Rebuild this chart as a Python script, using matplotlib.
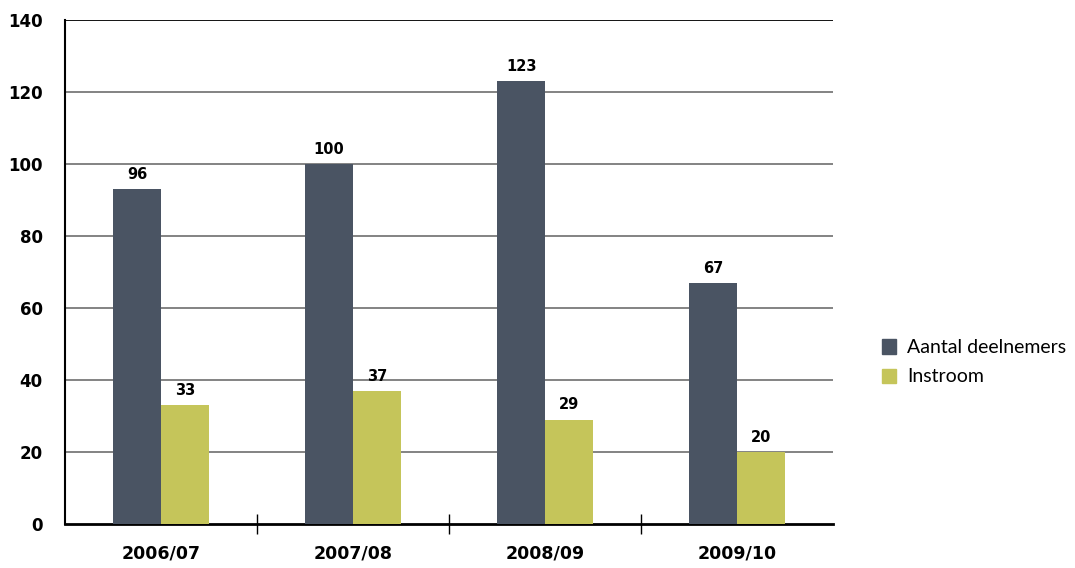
import numpy as np
from matplotlib import pyplot as plt
from matplotlib.patches import Patch

years = ['2006/07', '2007/08', '2008/09', '2009/10']
deelnemers_height = [93, 100, 123, 67]
deelnemers_label = [96, 100, 123, 67]
instroom = [33, 37, 29, 20]
yticks = [0, 20, 40, 60, 80, 100, 120, 140]

dark = '#4a5463'
green = '#c5c55a'

plt.rcParams['font.family'] = ['Lato', 'DejaVu Sans']
num_font = 'DejaVu Sans'

fig = plt.figure(figsize=(10.75, 5.68), dpi=100)
ax = fig.add_axes([0.0605, 0.0775, 0.7145, 0.8873])

x = np.arange(len(years)) + 0.5
w = 0.25
ax.bar(x - w/2, deelnemers_height, width=w, color=dark, zorder=3)
ax.bar(x + w/2, instroom, width=w, color=green, zorder=3)

for xi, h, lab in zip(x - w/2, deelnemers_height, deelnemers_label):
    ax.text(xi, h + 2.0, str(lab), ha='center', va='bottom', fontsize=10.5,
            fontweight='bold', family=num_font)
for xi, v in zip(x + w/2, instroom):
    ax.text(xi, v + 2.0, str(v), ha='center', va='bottom', fontsize=10.5,
            fontweight='bold', family=num_font)

for yv in yticks[1:-1]:
    ax.axhline(yv, color='#7a7a7a', linewidth=1.3, zorder=1)
ax.axhline(140, color='black', linewidth=1.3, zorder=1)

ax.set_xlim(0, len(years))
ax.set_ylim(0, 140)
ax.set_yticks(yticks)
ax.set_yticklabels([str(v) for v in yticks], fontsize=12, fontweight='bold', family=num_font)
ax.tick_params(axis='y', length=0, pad=16)

ax.set_xticks([1, 2, 3])
ax.set_xticklabels([])
ax.tick_params(axis='x', direction='inout', length=14, width=1, color='black')
for xi, yr in zip(x, years):
    ax.text(xi, -8.2, yr, ha='center', va='center', fontsize=12.5, fontweight='bold',
            family=num_font)

ax.spines['right'].set_visible(False)
ax.spines['top'].set_visible(False)
ax.spines['left'].set_linewidth(1.5)
ax.spines['bottom'].set_linewidth(2)

handles = [Patch(color=dark, label='Aantal deelnemers'), Patch(color=green, label='Instroom')]
fig.legend(handles=handles, loc='center left', bbox_to_anchor=(0.804, 0.362), frameon=False,
           fontsize=14, handlelength=0.75, handleheight=0.75, handletextpad=0.55, labelspacing=0.62)

fig.savefig('out.png', dpi=100)
